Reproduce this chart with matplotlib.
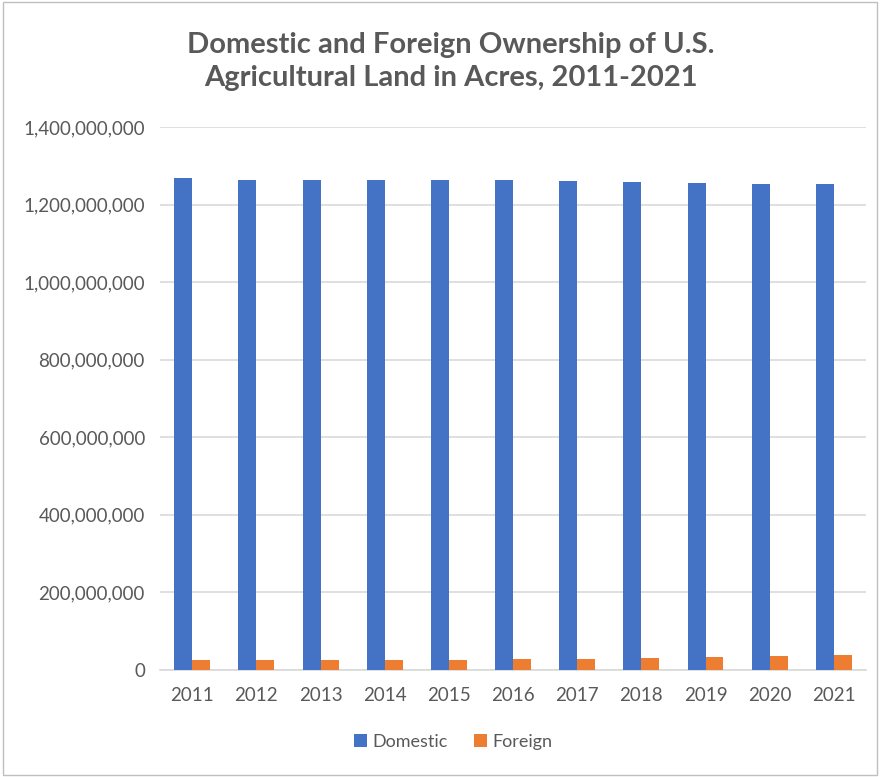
import numpy as np
import matplotlib.pyplot as plt
from matplotlib.patches import Rectangle
from matplotlib.ticker import FuncFormatter

# Дані
years = ["2011", "2012", "2013", "2014", "2015", "2016",
         "2017", "2018", "2019", "2020", "2021"]
domestic = [1267.5e6, 1264e6, 1264e6, 1264e6, 1264e6, 1264e6,
            1260.5e6, 1258e6, 1255.5e6, 1253e6, 1253e6]
foreign = [25e6, 25e6, 25e6, 25e6, 25e6, 28e6,
           28e6, 31e6, 34e6, 36.5e6, 39e6]

blue = "#4472C4"
orange = "#ED7D31"
grey = "#595959"

plt.rcParams["font.family"] = ["Lato", "DejaVu Sans"]

fig = plt.figure(figsize=(8.8, 7.77), dpi=100)
ax = fig.add_axes([0.182, 0.1377, 0.802, 0.6989])

x = np.arange(len(years))
w = 0.28
ax.bar(x - w / 2, domestic, w, color=blue, label="Domestic", zorder=3)
ax.bar(x + w / 2, foreign, w, color=orange, label="Foreign", zorder=3)

ax.set_xlim(-0.5, len(years) - 0.5)
ax.set_ylim(0, 1.4e9)
ax.set_yticks(np.arange(0, 1.41e9, 2e8))
ax.yaxis.set_major_formatter(FuncFormatter(lambda v, p: f"{int(v):,}"))
ax.set_xticks(x)
ax.set_xticklabels(years)
ax.tick_params(axis="both", length=0, labelsize=13.5, colors=grey)
ax.tick_params(axis="y", pad=11)
ax.tick_params(axis="x", pad=12)
ax.grid(axis="y", color="#D9D9D9", linewidth=1.2, zorder=0)
for s in ["top", "right", "left"]:
    ax.spines[s].set_visible(False)
ax.spines["bottom"].set_color("#D9D9D9")
ax.spines["bottom"].set_linewidth(1.2)

fig.text(0.512, 0.921, "Domestic and Foreign Ownership of U.S.\nAgricultural Land in Acres, 2011-2021",
         ha="center", va="center", fontsize=21, fontweight="bold", color=grey,
         linespacing=1.3)

leg = fig.legend(loc="center", bbox_to_anchor=(0.515, 0.045), ncol=2, frameon=False,
                 fontsize=13, handlelength=0.7, handleheight=0.7, handletextpad=0.3,
                 columnspacing=1.5)
for t in leg.get_texts():
    t.set_color(grey)

# Рамка діаграми
fig.patches.append(Rectangle((0.003, 0.003), 0.994, 0.994, transform=fig.transFigure,
                             fill=False, edgecolor="#BFBFBF", linewidth=1))

fig.savefig("out.png", dpi=100)
